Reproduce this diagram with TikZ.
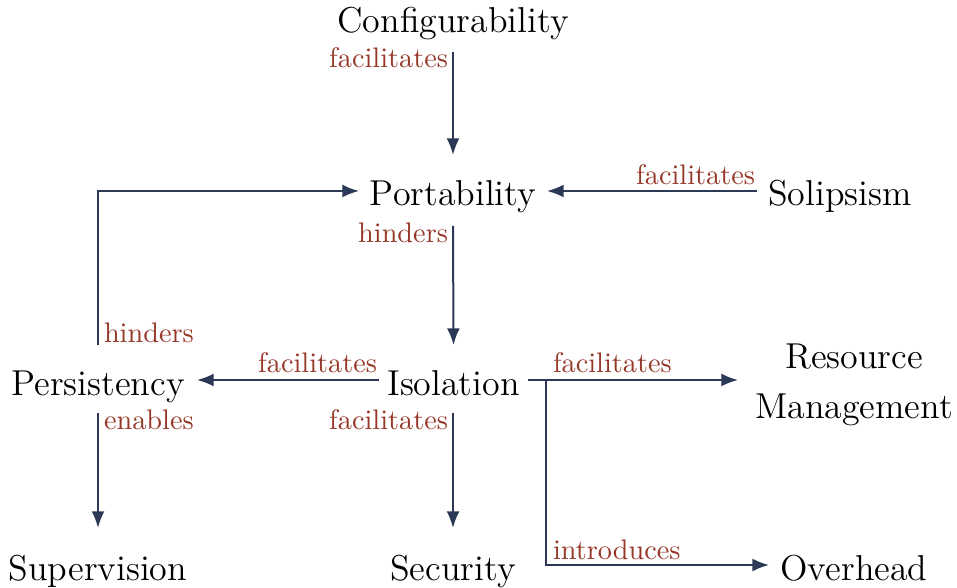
\documentclass[tikz,border=0pt]{standalone}
\usepackage{fontspec}
\usetikzlibrary{arrows.meta}
\definecolor{linkcol}{RGB}{43,56,86}
\definecolor{relcol}{RGB}{150,56,40}
\begin{document}
\begin{tikzpicture}[x=0.35pt,y=0.35pt,
  concept/.style={font=\fontsize{12.6}{17.5}\selectfont, inner sep=0pt, outer sep=0pt, anchor=base},
  rel/.style={font=\fontsize{9.9}{12}\selectfont, text=relcol, inner sep=0pt, outer sep=0pt},
  link/.style={draw=linkcol, line width=0.7pt, -{Latex[length=5.8pt,width=4.5pt]}}]
\useasboundingbox (0,0) rectangle (957,-588);

% concepts
\node[concept] (conf) at (453,-33) {Configurability};
\node[concept] (port) at (453,-206) {Portability};
\node[concept] (sol)  at (840,-206) {Solipsism};
\node[concept] (pers) at (98,-396) {Persistency};
\node[concept] (iso)  at (453.5,-396) {Isolation};
\node[concept, anchor=center, align=center] (res) at (854,-384.5) {Resource\\Management};
\node[concept] (sup)  at (98,-581) {Supervision};
\node[concept] (sec)  at (453,-581) {Security};
\node[concept] (over) at (854,-581) {Overhead};

% relations
\draw[link] ([shift={(0,-19)}]conf.base) --
  node[rel,pos=0,anchor=base east,shift={(-5,-16)}]{facilitates}
  ([shift={(0,51)}]port.base);
\draw[link] ([shift={(0,-20)}]port.base) --
  node[rel,pos=0,anchor=base east,shift={(-5,-17)}]{hinders}
  ([shift={(0,51)}]iso.base);
\draw[link] ([shift={(-83,15)}]sol.base) --
  node[rel,pos=0,anchor=base east,shift={(-2,6)}]{facilitates}
  ([shift={(94,15)}]port.base);
\draw[link] ([shift={(0,51)}]pers.base) |-
  node[rel,pos=0,anchor=base west,shift={(6,2)}]{hinders}
  ([shift={(-94,15)}]port.base);
\draw[link] ([shift={(-74.5,16)}]iso.base) --
  node[rel,pos=0,anchor=base east,shift={(-2,7)}]{facilitates}
  ([shift={(99,16)}]pers.base);
\draw[link] ([shift={(74.5,16)}]iso.base) --
  node[rel,pos=0,anchor=base west,shift={(25,7)}]{facilitates}
  ([shift={(-116,4.5)}]res.center);
\draw[link] ([shift={(74.5,16)}]iso.base) -- ++(18,0) |-
  node[rel,pos=0.5,anchor=base west,shift={(7,6)}]{introduces}
  ([shift={(-85,16)}]over.base);
\draw[link] ([shift={(-0.5,-17)}]iso.base) --
  node[rel,pos=0,anchor=base east,shift={(-5,-17)}]{facilitates}
  ([shift={(0,53)}]sec.base);
\draw[link] ([shift={(0,-17)}]pers.base) --
  node[rel,pos=0,anchor=base west,shift={(6,-17)}]{enables}
  ([shift={(0,53)}]sup.base);
\end{tikzpicture}
\end{document}
